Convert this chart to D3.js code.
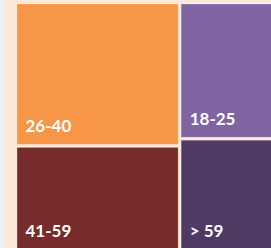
<!DOCTYPE html>
<html>
<head>
<meta charset="utf-8">
<script src="https://cdn.jsdelivr.net/npm/d3@7"></script>
<style>
  body { margin: 0; background: #fde9d9; }
  svg { display: block; }
</style>
</head>
<body>
<svg id="chart" width="271" height="248"></svg>
<script>
// age groups and their shares
var groups = ["26-40", "41-59", "18-25", "> 59"];
var shares = [33.2, 24.2, 23.4, 19.2];
var colors = ["#f79646", "#772b2b", "#8064a2", "#4e3a62"];

var svg = d3.select("#chart");

svg.append("rect")
    .attr("width", 271).attr("height", 248)
    .attr("fill", "#fde9d9");
svg.append("rect")
    .attr("width", 5).attr("height", 248)
    .attr("fill", "#f0f0f0");

var root = d3.hierarchy({
        children: groups.map(function(g, i) { return {name: g, value: shares[i], color: colors[i]}; })
    })
    .sum(function(d) { return d.value || 0; })
    .sort(function(a, b) { return b.value - a.value; });

d3.treemap()
    .tile(d3.treemapSquarify)
    .size([283, 245])
    .paddingInner(3)(root);

var g = svg.append("g").attr("transform", "translate(17,4)");

var cell = g.selectAll("g.cell")
    .data(root.leaves())
    .enter().append("g")
    .attr("class", "cell");

cell.append("rect")
    .attr("x", function(d) { return d.x0; })
    .attr("y", function(d) { return d.y0; })
    .attr("width", function(d) { return d.x1 - d.x0; })
    .attr("height", function(d) { return d.y1 - d.y0; })
    .attr("fill", function(d) { return d.data.color; })
    .attr("stroke", "#ffffff")
    .attr("stroke-opacity", 0.25)
    .attr("stroke-width", 1);

cell.append("text")
    .attr("x", function(d) { return d.x0 + 8.5; })
    .attr("y", function(d) { return d.y1 - 12; })
    .attr("fill", "#ffffff")
    .style("font-family", "Lato, 'Open Sans', sans-serif")
    .style("font-weight", 700)
    .style("font-size", "17px")
    .text(function(d) { return d.data.name; });
</script>
</body>
</html>
